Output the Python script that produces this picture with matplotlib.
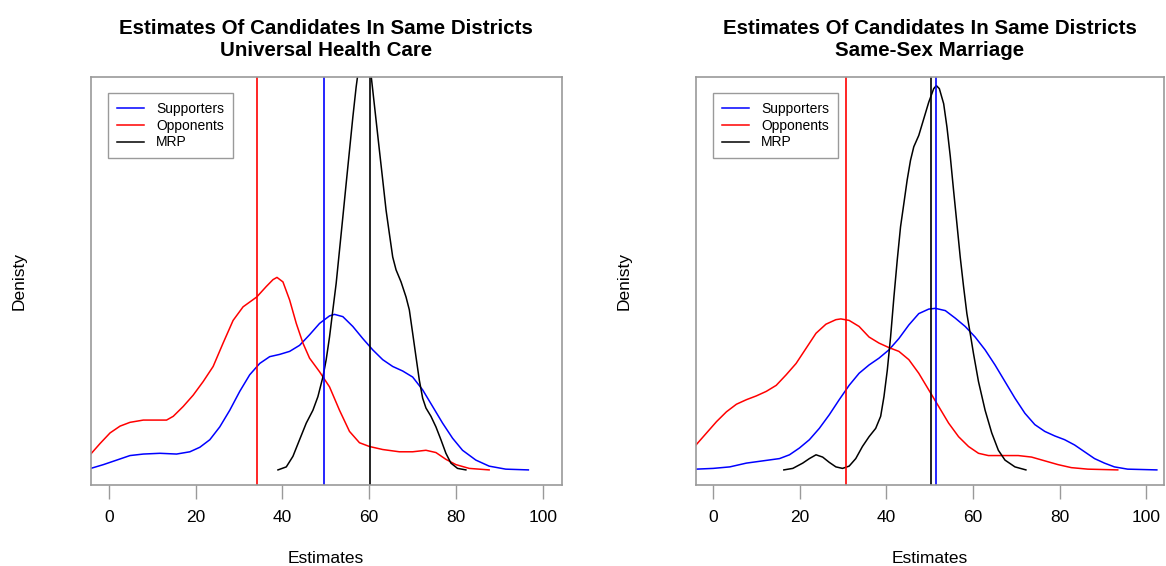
import matplotlib
matplotlib.use("Agg")
import matplotlib.pyplot as plt

plt.rcParams['font.family'] = ['Liberation Sans', 'DejaVu Sans']

# density curves per panel (x = estimate, y = density)
uhc_sup_x = [-4.14, -1.23, 1.84, 4.90, 7.97, 11.80, 15.63, 18.70, 21.00, 23.30, 25.59, 27.89, 30.19, 32.49,
             34.79, 37.09, 39.39, 41.69, 43.98, 46.28, 48.58, 50.88, 52.03, 53.95, 56.25, 58.54, 60.84,
             63.14, 65.44, 67.74, 70.04, 72.34, 74.64, 76.93, 79.23, 81.53, 84.60, 87.66, 91.49, 96.70]
uhc_sup_y = [0.0002, 0.0007, 0.0013, 0.0019, 0.0021, 0.0022, 0.0021, 0.0024, 0.0030, 0.0040, 0.0057, 0.0079,
             0.0104, 0.0126, 0.0141, 0.0150, 0.0153, 0.0157, 0.0165, 0.0179, 0.0194, 0.0204, 0.0206, 0.0203,
             0.0190, 0.0174, 0.0159, 0.0146, 0.0137, 0.0131, 0.0123, 0.0106, 0.0084, 0.0062, 0.0042, 0.0026,
             0.0013, 0.0005, 0.0001, 0.0]
uhc_opp_x = [-4.14, -1.99, 0.31, 2.61, 4.90, 7.97, 11.03, 13.33, 14.87, 17.16, 19.46, 21.76, 24.06, 26.36,
             28.66, 30.96, 34.10, 36.32, 37.85, 38.77, 40.15, 41.69, 43.22, 44.75, 46.28, 48.58, 50.88,
             53.18, 55.48, 57.78, 60.08, 63.14, 66.97, 70.04, 73.10, 75.40, 77.70, 80.00, 83.07, 87.66]
uhc_opp_y = [0.0021, 0.0035, 0.0049, 0.0058, 0.0063, 0.0066, 0.0066, 0.0066, 0.0071, 0.0084, 0.0099, 0.0117,
             0.0137, 0.0168, 0.0198, 0.0216, 0.0229, 0.0243, 0.0252, 0.0255, 0.0249, 0.0225, 0.0194, 0.0168,
             0.0148, 0.0130, 0.0110, 0.0079, 0.0051, 0.0036, 0.0031, 0.0027, 0.0024, 0.0024, 0.0026, 0.0023,
             0.0014, 0.0007, 0.0002, 0.0]
uhc_mrp_x = [39.00, 40.92, 42.45, 43.98, 45.52, 47.05, 48.20, 49.35, 50.11, 50.88, 51.65, 52.41, 53.18, 53.95,
             54.71, 55.48, 56.25, 57.01, 57.78, 58.93, 60.08, 60.84, 61.61, 62.38, 63.14, 63.91, 64.67,
             65.44, 66.21, 67.36, 68.51, 69.27, 70.04, 70.80, 71.57, 72.34, 73.10, 74.25, 75.40, 76.55,
             77.70, 78.85, 80.38, 82.30]
uhc_mrp_y = [0.0, 0.0004, 0.0018, 0.0040, 0.0062, 0.0079, 0.0097, 0.0123, 0.0146, 0.0176, 0.0212, 0.0247,
             0.0291, 0.0335, 0.0379, 0.0423, 0.0467, 0.0507, 0.0540, 0.0562, 0.0542, 0.0503, 0.0463, 0.0423,
             0.0384, 0.0344, 0.0313, 0.0282, 0.0265, 0.0249, 0.0229, 0.0212, 0.0181, 0.0150, 0.0119, 0.0095,
             0.0082, 0.0071, 0.0057, 0.0040, 0.0022, 0.0009, 0.0002, 0.0]

ssm_sup_x = [-3.98, 0.0, 3.83, 7.66, 11.49, 15.31, 17.61, 19.91, 22.21, 24.50, 26.80, 29.10, 31.39, 33.69,
             35.99, 38.28, 40.58, 42.88, 45.18, 47.47, 49.77, 51.30, 53.60, 55.90, 58.19, 60.49, 62.79,
             65.08, 67.38, 69.68, 71.98, 74.27, 76.57, 78.87, 81.16, 83.46, 85.76, 88.06, 90.35, 92.65,
             95.71, 102.45]
ssm_sup_y = [0.0001, 0.0002, 0.0004, 0.0009, 0.0012, 0.0015, 0.0020, 0.0029, 0.0040, 0.0055, 0.0073, 0.0093,
             0.0112, 0.0128, 0.0139, 0.0148, 0.0159, 0.0174, 0.0192, 0.0207, 0.0213, 0.0214, 0.0211, 0.0201,
             0.0190, 0.0176, 0.0159, 0.0139, 0.0117, 0.0095, 0.0075, 0.0060, 0.0051, 0.0045, 0.0040, 0.0033,
             0.0024, 0.0015, 0.0009, 0.0004, 0.0001, 0.0]
ssm_opp_x = [-3.98, -1.53, 0.77, 3.06, 5.36, 7.66, 9.95, 12.25, 14.55, 16.85, 19.14, 21.44, 23.74, 26.03,
             28.33, 29.48, 31.39, 33.69, 35.99, 38.28, 40.58, 42.88, 45.18, 47.47, 49.77, 52.07, 54.36,
             56.66, 58.96, 61.26, 63.55, 66.62, 70.44, 73.51, 76.57, 79.63, 82.70, 86.52, 93.42]
ssm_opp_y = [0.0033, 0.0049, 0.0064, 0.0077, 0.0087, 0.0093, 0.0098, 0.0104, 0.0112, 0.0126, 0.0141, 0.0161,
             0.0181, 0.0193, 0.0199, 0.0200, 0.0198, 0.0190, 0.0176, 0.0168, 0.0162, 0.0157, 0.0146, 0.0128,
             0.0106, 0.0084, 0.0062, 0.0044, 0.0031, 0.0022, 0.0019, 0.0019, 0.0019, 0.0017, 0.0012, 0.0007,
             0.0003, 0.0001, 0.0]
ssm_mrp_x = [16.31, 18.38, 20.67, 22.21, 23.74, 25.27, 26.80, 28.33, 29.86, 31.39, 32.92, 34.46, 35.99,
             37.52, 38.67, 39.43, 40.20, 40.96, 41.73, 42.50, 43.26, 44.03, 44.79, 45.56, 46.32, 47.47,
             48.62, 49.77, 50.92, 51.53, 52.22, 53.22, 53.98, 54.75, 55.51, 56.28, 57.04, 57.81, 58.58,
             59.34, 60.11, 61.26, 62.79, 64.32, 65.85, 67.38, 69.68, 72.21]
ssm_mrp_y = [0.0, 0.0002, 0.0009, 0.0015, 0.0020, 0.0017, 0.0010, 0.0004, 0.0002, 0.0005, 0.0015, 0.0031,
             0.0044, 0.0055, 0.0071, 0.0097, 0.0132, 0.0176, 0.0229, 0.0278, 0.0322, 0.0353, 0.0384, 0.0410,
             0.0428, 0.0443, 0.0465, 0.0487, 0.0505, 0.0509, 0.0505, 0.0485, 0.0454, 0.0415, 0.0370, 0.0326,
             0.0282, 0.0243, 0.0207, 0.0181, 0.0154, 0.0117, 0.0079, 0.0049, 0.0026, 0.0013, 0.0004, 0.0]

# means drawn as vertical lines: supporters, opponents, mrp
uhc_means = [49.65, 34.1, 60.15]
ssm_means = [51.45, 30.55, 50.4]

titles = ["Estimates Of Candidates In Same Districts\nUniversal Health Care",
          "Estimates Of Candidates In Same Districts\nSame-Sex Marriage"]
xticks = [0, 20, 40, 60, 80, 100]

panels = [
    (uhc_sup_x, uhc_sup_y, uhc_opp_x, uhc_opp_y, uhc_mrp_x, uhc_mrp_y, uhc_means, (-4.15, 104.4)),
    (ssm_sup_x, ssm_sup_y, ssm_opp_x, ssm_opp_y, ssm_mrp_x, ssm_mrp_y, ssm_means, (-3.98, 104.0)),
]
axes_pos = [[0.0778, 0.1431, 0.404, 0.7203], [0.5969, 0.1431, 0.401, 0.7203]]
frame = '#9a9a9a'

fig = plt.figure(figsize=(11.66, 5.66), dpi=100)
for i, (sx, sy, ox, oy, mx, my, means, xl) in enumerate(panels):
    ax = fig.add_axes(axes_pos[i])
    ax.plot(sx, sy, color='blue', lw=1.1, label='Supporters')
    ax.plot(ox, oy, color='red', lw=1.1, label='Opponents')
    ax.plot(mx, my, color='black', lw=1.1, label='MRP')
    ax.axvline(means[0], color='blue', lw=1.2)
    ax.axvline(means[1], color='red', lw=1.2)
    ax.axvline(means[2], color='black', lw=1.2)
    ax.set_xlim(*xl)
    ax.set_ylim(-0.0020, 0.0520)
    ax.set_xticks(xticks)
    ax.set_yticks([])
    ax.tick_params(axis='x', length=10, width=1, color=frame, pad=8, labelsize=12.5)
    for s in ax.spines.values():
        s.set_color(frame)
        s.set_linewidth(1.2)
    ax.set_xlabel('Estimates', fontsize=12.5, labelpad=19)
    ax.set_ylabel('Denisty', fontsize=12.5, labelpad=46)
    ax.set_title(titles[i], fontsize=14.8, fontweight='bold', pad=15, linespacing=1.22)
    leg = ax.legend(loc='upper left', bbox_to_anchor=(0.037, 0.962), borderaxespad=0,
                    fancybox=False, edgecolor=frame, framealpha=1, fontsize=10,
                    handlelength=1.9, handletextpad=0.9, labelspacing=0.2, borderpad=0.65)
    leg.get_frame().set_linewidth(1.0)

fig.savefig('out.png', dpi=100)
